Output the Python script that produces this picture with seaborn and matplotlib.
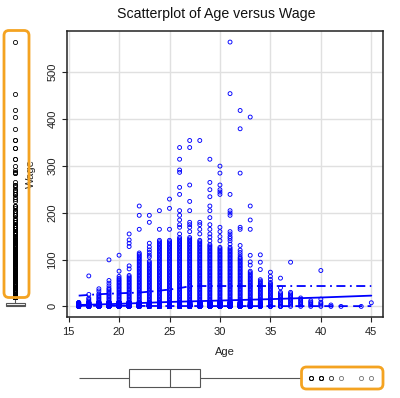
import numpy as np
import pandas as pd
import matplotlib
matplotlib.use("Agg")
import matplotlib.pyplot as plt
from matplotlib.patches import FancyBboxPatch
import seaborn as sns

# ---------------- data ----------------
ages = [16, 17, 18, 19, 20, 21, 22, 23, 24, 25, 26, 27, 28, 29, 30,
        31, 32, 33, 34, 35, 36, 37, 38, 39, 40, 41, 42, 44, 45]
# top of the dense, continuous column of points at each age (-1 = no column)
dense_top = [6, 20, 28, 40, 62, 66, 115, 98, 142, 142, 148, 148, 142, 133, 126,
             126, 105, 75, 59, 52, 30, 32, 18, 13, 9, 5, 0.6, 0.6, -1]
# number of overlapping low-wage observations at each age
bulk_count = [42, 66, 93, 132, 171, 211, 168, 169, 160, 189, 148, 151, 157, 123, 97,
              65, 45, 27, 13, 3, 2, 0, 0, 0, 0, 0, 0, 0, 0]
low_wages = [0, 0, 0, 0, 1, 2, 3, 4, 6, 8]
# separated points above the dense column
sparse_wages = [
    [],
    [25.5, 65],
    [33, 37.6],
    [44, 49.6, 55.3, 99.3],
    [64, 75.2, 109.2],
    [80, 86.5, 127.7, 134.8, 141.8, 154.6],
    [164.5, 194.3, 214.2],
    [105, 109.2, 115, 120.6, 127, 134.8, 179.4, 194.3],
    [164.5, 204.3],
    [164.5, 209.2, 229],
    [154.6, 168.8, 174.4, 184.4, 194.3, 204.3, 239, 254, 286, 291, 314, 339],
    [159.6, 168.8, 174.4, 179.4, 204.3, 224, 259, 339, 354],
    [154.6, 164.5, 174.4, 179.4, 354],
    [140, 148, 154.6, 164.5, 174.4, 189.4, 204.3, 214.2, 234, 249, 264.5, 314],
    [140, 149, 159.6, 168.8, 239, 244, 249, 259, 284.4, 299.3],
    [133, 140, 145, 149, 154.6, 159.6, 194.3, 199.3, 204.3, 239, 454, 564],
    [110, 115, 120, 130, 164.5, 168.8, 284.4, 379, 418],
    [88, 95, 109, 164.5, 184.4, 214.2, 404],
    [78.7, 94.3, 110],
    [57.4, 64, 73],
    [39.7, 60.3],
    [94.3],
    [],
    [],
    [15.6, 76.6],
    [],
    [],
    [],
    [7.8],
]

# fitted lines
fit_age = [16, 20, 25, 30, 35, 40, 45]
fit_mid = [3, 5.5, 9.5, 12.5, 15.5, 19, 23]
spread_age = [16, 18, 20, 22, 23.5, 25, 26, 27, 28, 35, 45]
spread_up = [23, 26, 28, 29.5, 32.5, 36, 39, 43, 43.5, 43.5, 43.5]
spread_low_age = [16, 25, 35, 45]
spread_low = [1.5, 0.8, 0.6, 0.6]

x_ticks = [15, 20, 25, 30, 35, 40, 45]
y_ticks = [0, 100, 200, 300, 400, 500]

# ---------------- build the observation table ----------------
rows_age, rows_wage = [], []
for a, top, nb, sp in zip(ages, dense_top, bulk_count, sparse_wages):
    vals = [low_wages[j % len(low_wages)] for j in range(nb)]
    if top >= 0:
        vals += list(np.arange(0, top + 0.01, 3))
    vals += sp
    rows_age += [a] * len(vals)
    rows_wage += vals
df = pd.DataFrame({"Age": rows_age, "Wage": rows_wage})

# ---------------- figure ----------------
sns.set_style("white")
plt.rcParams["font.family"] = ["Liberation Sans", "DejaVu Sans"]

W, H = 400, 398
fig = plt.figure(figsize=(W / 100, H / 100), dpi=100)

def px_axes(x0, y0, x1, y1):
    return [x0 / W, 1 - y1 / H, (x1 - x0) / W, (y1 - y0) / H]

ax = fig.add_axes(px_axes(67, 31, 383, 317))
ax.set_zorder(0)

blue = "#0000FF"
sns.scatterplot(data=df, x="Age", y="Wage", ax=ax, marker="o", s=8,
                color=blue, edgecolor=blue, linewidth=0.65, zorder=3)
coll = ax.collections[-1]
coll.set_facecolor("none")
coll.set_edgecolor(blue)

sns.lineplot(x=fit_age, y=fit_mid, ax=ax, color=blue, linewidth=1.3, zorder=4)
sns.lineplot(x=spread_age, y=spread_up, ax=ax, color=blue, linewidth=1.3,
             linestyle=(0, (5, 2.5, 1, 2.5)), zorder=4)
sns.lineplot(x=spread_low_age, y=spread_low, ax=ax, color=blue, linewidth=1.3,
             linestyle=(0, (5, 3)), zorder=4)

xlim = (14.84, 46.16)
ylim = (-22.6, 587.6)
ax.set_xlim(xlim)
ax.set_ylim(ylim)
ax.set_xticks(x_ticks)
ax.set_yticks(y_ticks)
ax.grid(True, color="#E0E0E0", linewidth=1.0, zorder=0)
ax.set_axisbelow(True)
for s in ax.spines.values():
    s.set_visible(True)
    s.set_color("#222222")
    s.set_linewidth(1.1)
ax.tick_params(axis="both", which="major", bottom=True, left=True,
               direction="out", length=3.5, width=0.8,
               color="#222222", labelsize=8, labelcolor="#222222")
ax.tick_params(axis="x", pad=3.5)
ax.tick_params(axis="y", pad=3.5)
for lab in ax.get_yticklabels():
    lab.set_rotation(90)
    lab.set_va("center")

ax.set_xlabel("Age", fontsize=8, color="#222222")
ax.xaxis.label.set_va("center")
ax.xaxis.set_label_coords(0.5, -0.121)
ax.set_ylabel("Wage", fontsize=8, color="#222222")
ax.yaxis.label.set_va("center")
ax.yaxis.set_label_coords(-0.114, 0.5)

fig.text(216.5 / W, 1 - 14 / H, "Scatterplot of Age versus Wage",
         ha="center", va="center", fontsize=10.2, color="#111111")

# ---------------- marginal boxplots ----------------
axL = fig.add_axes(px_axes(0, 31, 28, 317))
axL.set_zorder(2)
sns.boxplot(data=df, y="Wage", ax=axL, width=0.6, color="white",
            linecolor="#555555", linewidth=0.8, showcaps=False,
            flierprops=dict(marker="o", markerfacecolor="none",
                            markeredgecolor="black", markersize=3.0,
                            markeredgewidth=0.6))
axL.set_ylim(ylim)
axL.set_xlim(-0.489, 0.395)
axL.set_axis_off()
axL.patch.set_facecolor("white")
axL.patch.set_visible(True)

axB = fig.add_axes(px_axes(67, 365, 383, 391))
sns.boxplot(data=df, x="Age", ax=axB, width=0.73, color="white",
            linecolor="#555555", linewidth=0.8, showcaps=False,
            flierprops=dict(marker="o", markerfacecolor="none",
                            markeredgecolor="black", markersize=3.0,
                            markeredgewidth=0.6, alpha=0.55))
axB.set_xlim(xlim)
axB.set_ylim(0.5, -0.5)
axB.set_axis_off()

# ---------------- orange highlight frames ----------------
orange = "#F4A321"
def frame(x0, y0, x1, y1):
    p = FancyBboxPatch((x0 / 100, (H - y1) / 100), (x1 - x0) / 100, (y1 - y0) / 100,
                       boxstyle="round,pad=0,rounding_size=0.05",
                       transform=fig.dpi_scale_trans, fill=False,
                       edgecolor=orange, linewidth=2.0, zorder=10)
    fig.add_artist(p)

frame(4, 30.5, 29, 297.5)
frame(301.5, 367, 383, 389)

fig.savefig("out.png", dpi=100)
